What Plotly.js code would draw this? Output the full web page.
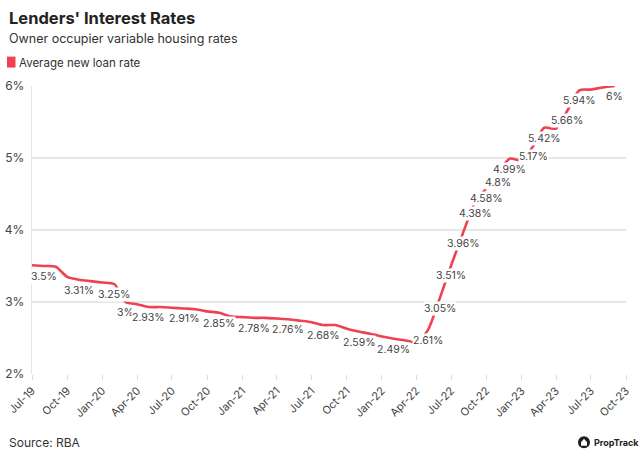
<!DOCTYPE html>
<html>
<head>
<meta charset="utf-8">
<script src="https://cdn.plot.ly/plotly-3.0.1.min.js"></script>
<style>
  html, body { margin: 0; padding: 0; background: #fff; }
  #chart { width: 640px; height: 463px; }
</style>
</head>
<body>
<div id="chart"></div>
<script>
// ---- Data ----
const months = [
  '2019-07-01','2019-08-01','2019-09-01','2019-10-01','2019-11-01','2019-12-01',
  '2020-01-01','2020-02-01','2020-03-01','2020-04-01','2020-05-01','2020-06-01',
  '2020-07-01','2020-08-01','2020-09-01','2020-10-01','2020-11-01','2020-12-01',
  '2021-01-01','2021-02-01','2021-03-01','2021-04-01','2021-05-01','2021-06-01',
  '2021-07-01','2021-08-01','2021-09-01','2021-10-01','2021-11-01','2021-12-01',
  '2022-01-01','2022-02-01','2022-03-01','2022-04-01','2022-05-01','2022-06-01',
  '2022-07-01','2022-08-01','2022-09-01','2022-10-01','2022-11-01','2022-12-01',
  '2023-01-01','2023-02-01','2023-03-01','2023-04-01','2023-05-01','2023-06-01',
  '2023-07-01','2023-08-01','2023-09-01'
];
const rates = [
  3.51, 3.50, 3.49, 3.35, 3.31, 3.29,
  3.27, 3.25, 3.00, 2.97, 2.93, 2.93,
  2.92, 2.91, 2.90, 2.87, 2.85, 2.80,
  2.79, 2.78, 2.78, 2.77, 2.76, 2.74,
  2.72, 2.68, 2.68, 2.63, 2.59, 2.56,
  2.52, 2.49, 2.47, 2.44, 2.61, 3.05,
  3.51, 3.96, 4.38, 4.58, 4.80, 4.99,
  4.97, 5.17, 5.42, 5.41, 5.66, 5.94,
  5.95, 5.98, 6.00
];
// points whose value label is shown
const labelIdx = [1,4,7,8,10,13,16,19,22,25,28,31,34,35,36,37,38,39,40,41,43,44,46,47,50];
const tickDates = [
  '2019-07-01','2019-10-01','2020-01-01','2020-04-01','2020-07-01','2020-10-01',
  '2021-01-01','2021-04-01','2021-07-01','2021-10-01','2022-01-01','2022-04-01',
  '2022-07-01','2022-10-01','2023-01-01','2023-04-01','2023-07-01','2023-10-01'
];
const tickLabels = [
  'Jul-19','Oct-19','Jan-20','Apr-20','Jul-20','Oct-20',
  'Jan-21','Apr-21','Jul-21','Oct-21','Jan-22','Apr-22',
  'Jul-22','Oct-22','Jan-23','Apr-23','Jul-23','Oct-23'
];
const yTicks = [2, 3, 4, 5, 6];
const seriesName = 'Average new loan rate';

// ---- Chart ----
const RED = '#EF4152';
const FONT = 'Inter, "Open Sans", sans-serif';
const W = 640, H = 463;
const M = {l: 32, r: 14, t: 85.5, b: 88.5};
const pw = W - M.l - M.r, ph = H - M.t - M.b;
const px = x => (x - M.l) / pw;
const py = y => (H - M.b - y) / ph;

const trace = {
  x: months, y: rates, type: 'scatter', mode: 'lines',
  line: {color: RED, width: 2.6, shape: 'spline', smoothing: 0.7},
  hoverinfo: 'skip', showlegend: false, cliponaxis: false
};

const annotations = labelIdx.map(i => ({
  x: months[i], y: rates[i], xref: 'x', yref: 'y',
  text: rates[i] + '%', showarrow: false,
  xanchor: 'center', yanchor: 'top', yshift: -3,
  bgcolor: '#ffffff', borderpad: 0,
  font: {family: FONT, size: 10.5, color: '#444'}
}));

annotations.push(
  {xref: 'paper', yref: 'paper', x: px(7), y: py(17), xanchor: 'left', yanchor: 'middle',
   text: "<b>Lenders' Interest Rates</b>", showarrow: false,
   font: {family: FONT, size: 16.5, color: '#222'}},
  {xref: 'paper', yref: 'paper', x: px(7), y: py(38), xanchor: 'left', yanchor: 'middle',
   text: 'Owner occupier variable housing rates', showarrow: false,
   font: {family: FONT, size: 12.5, color: '#333'}},
  {xref: 'paper', yref: 'paper', x: px(17), y: py(62), xanchor: 'left', yanchor: 'middle',
   text: seriesName, showarrow: false,
   font: {family: FONT, size: 11.5, color: '#333'}},
  {xref: 'paper', yref: 'paper', x: px(7), y: py(443), xanchor: 'left', yanchor: 'middle',
   text: 'Source: RBA', showarrow: false,
   font: {family: FONT, size: 12, color: '#333'}},
  {xref: 'paper', yref: 'paper', x: px(592), y: py(443), xanchor: 'left', yanchor: 'middle',
   text: '<b>PropTrack</b>', showarrow: false,
   font: {family: FONT, size: 9, color: '#222'}}
);

const shapes = [
  // legend swatch
  {type: 'rect', xref: 'paper', yref: 'paper', x0: px(7), x1: px(15.5), y0: py(67), y1: py(56),
   fillcolor: RED, line: {width: 0}},
  // logo circle
  {type: 'circle', xref: 'paper', yref: 'paper', x0: px(578), x1: px(590), y0: py(449), y1: py(437),
   fillcolor: '#1d1d1d', line: {width: 0}},
  // logo house
  {type: 'path', xref: 'paper', yref: 'paper',
   path: 'M ' + px(581) + ' ' + py(443) + ' L ' + px(584) + ' ' + py(439.5) + ' L ' + px(587) + ' ' + py(443) +
         ' L ' + px(587) + ' ' + py(446.5) + ' L ' + px(581) + ' ' + py(446.5) + ' Z',
   fillcolor: '#ffffff', line: {width: 0}}
];

const layout = {
  width: W, height: H,
  margin: M,
  paper_bgcolor: '#fff', plot_bgcolor: '#fff',
  font: {family: FONT, color: '#444'},
  showlegend: false,
  xaxis: {
    type: 'date', range: ['2019-07-01', '2023-10-01'],
    tickmode: 'array', tickvals: tickDates, ticktext: tickLabels,
    tickangle: -45, tickfont: {family: FONT, size: 11, color: '#444'},
    ticks: 'outside', ticklen: 5, tickcolor: '#dcdcdc', tickwidth: 1,
    showgrid: false, showline: false, zeroline: false, fixedrange: true
  },
  yaxis: {
    range: [2, 6], tickmode: 'array', tickvals: yTicks,
    ticktext: yTicks.map(v => v + '%'),
    tickfont: {family: FONT, size: 12, color: '#444'},
    showgrid: true, gridcolor: '#e6e6e6', gridwidth: 1.2,
    showline: true, linecolor: '#e6e6e6', linewidth: 1.2,
    zeroline: false, ticks: '', ticklabelstandoff: 4, fixedrange: true
  },
  annotations: annotations,
  shapes: shapes
};

Plotly.newPlot('chart', [trace], layout, {displayModeBar: false, staticPlot: true});
</script>
</body>
</html>
